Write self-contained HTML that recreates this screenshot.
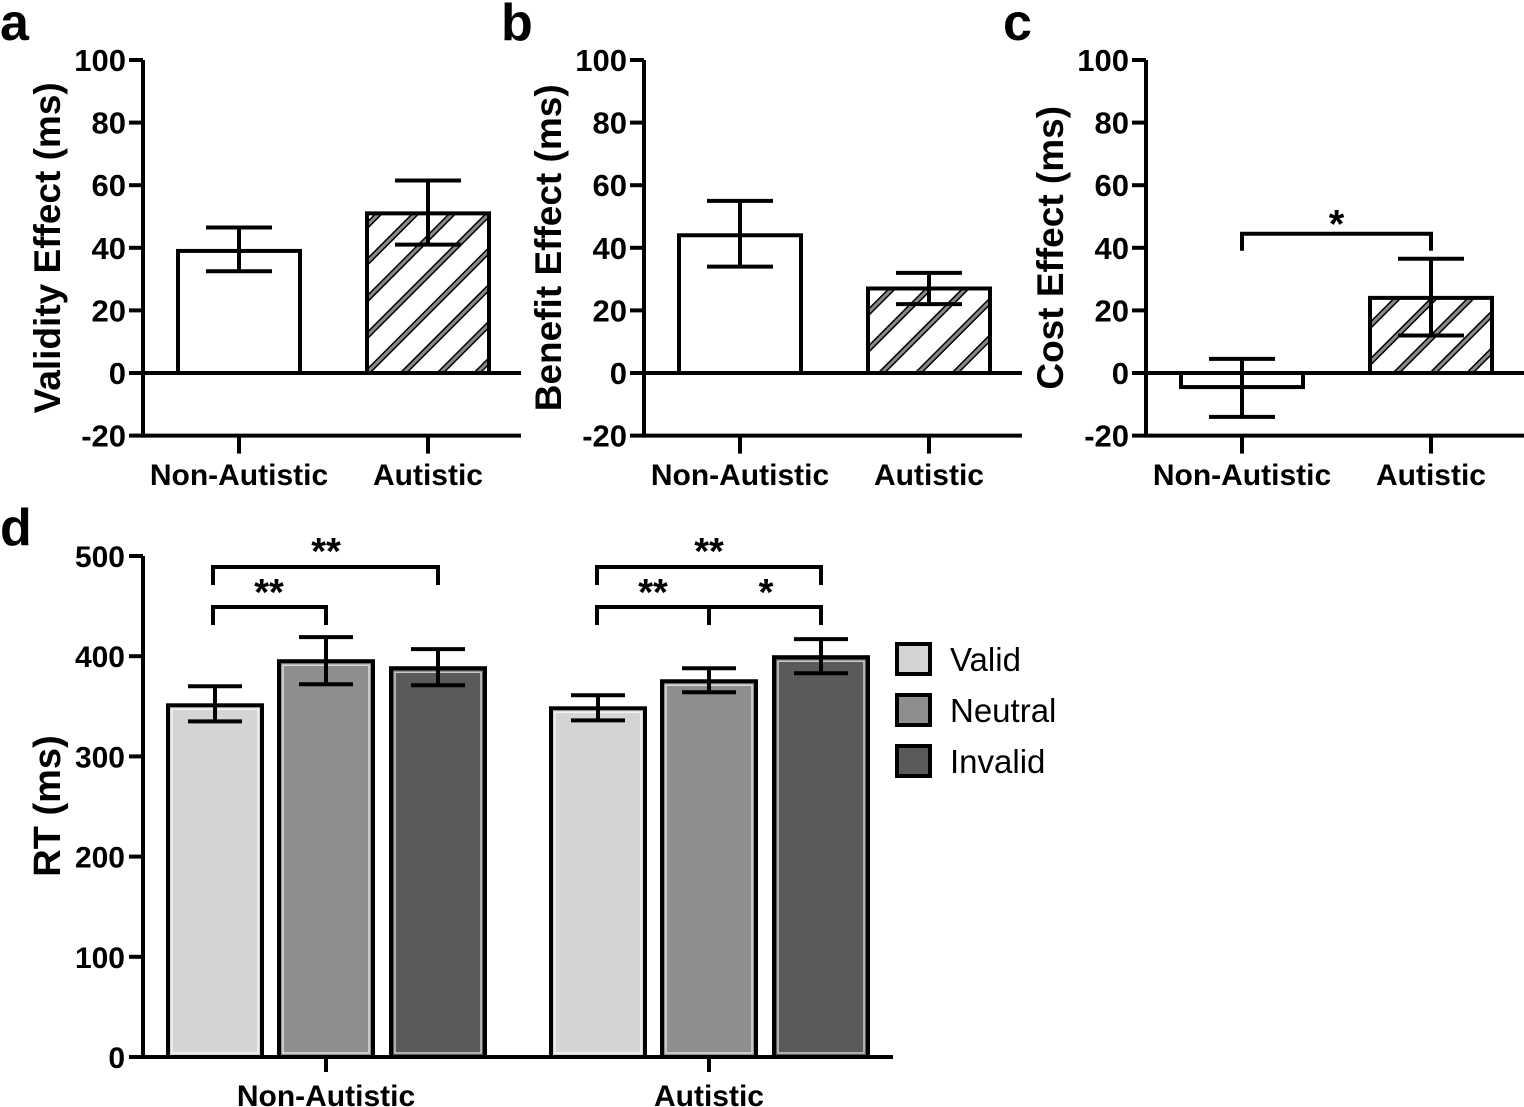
<!DOCTYPE html>
<html><head><meta charset="utf-8"><style>
body{margin:0;background:#fff;}
svg{display:block;font-family:"Liberation Sans",Arial,sans-serif;}
</style></head><body>
<svg id="fig" width="1524" height="1107" viewBox="0 0 1524 1107">
<defs>
<pattern id="hatch" patternUnits="userSpaceOnUse" width="26" height="26" patternTransform="rotate(45)">
<rect width="26" height="26" fill="#fff"/>
<rect x="0" y="0" width="6" height="26" fill="#000"/>
<rect x="1.5" y="0" width="3" height="26" fill="#888"/>
</pattern>
</defs>
</svg>
<script>
const NS='http://www.w3.org/2000/svg';
const svg=document.getElementById('fig');
function mk(tag,attrs,parent,text){const e=document.createElementNS(NS,tag);for(const k in attrs)e.setAttribute(k,attrs[k]);if(text!==undefined)e.textContent=text;(parent||svg).appendChild(e);return e;}

// Panels a-c data
const groupsABC=['Non-Autistic','Autistic'];
const ticksABC=[-20,0,20,40,60,80,100];
const validityMean=[39,51];
const validityLo=[32.5,41];
const validityHi=[46.5,61.5];
const benefitMean=[44,27];
const benefitLo=[34,22];
const benefitHi=[55,32];
const costMean=[-4.5,24];
const costLo=[-14,12];
const costHi=[4.5,36.5];

// Panel d data
const groupsD=['Non-Autistic','Autistic'];
const conditions=['Valid','Neutral','Invalid'];
const ticksD=[0,100,200,300,400,500];
const rtValid=[351,348];
const rtNeutral=[395,375];
const rtInvalid=[388,399];
const rtValidLo=[335,336];
const rtValidHi=[370,361];
const rtNeutralLo=[372,364];
const rtNeutralHi=[419,388];
const rtInvalidLo=[371,383];
const rtInvalidHi=[407,417];

function panel(letter,name,ax,title,means,los,his,sig){
  const g=mk('g',{});
  
  
  const y=v=>373-(v*313/100);
  const centers=[ax+96,ax+285];
  const bw=122;
  const L=mk('text',{x:ax-143,y:40,'font-size':52,'font-weight':'bold'},g,letter);
  
  
  means.forEach((m,i)=>{
    const top=Math.min(y(m),y(0)),h=Math.abs(y(m)-y(0));
    const r=mk('rect',{x:centers[i]-bw/2,y:top,width:bw,height:h,fill:i===1?'url(#hatch)':'#fff',stroke:'#000','stroke-width':4},g);
    
    
    const e=mk('path',{d:`M${centers[i]},${y(his[i])}V${y(los[i])}M${centers[i]-33},${y(his[i])}H${centers[i]+33}M${centers[i]-33},${y(los[i])}H${centers[i]+33}`,stroke:'#000','stroke-width':4,fill:'none'},g);
    
    
  });
  const a=mk('path',{d:`M${ax},${y(100)}V${y(-20)}H${ax+378}M${ax},${y(0)}H${ax+378}`,stroke:'#000','stroke-width':4,fill:'none'},g);
  
  
  ticksABC.forEach(t=>{
    mk('line',{x1:ax-14,x2:ax,y1:y(t),y2:y(t),stroke:'#000','stroke-width':4},g);
    const tl=mk('text',{x:ax-17,y:y(t)+11,'font-size':31,'font-weight':'bold','text-anchor':'end'},g,String(t));
    
    
  });
  centers.forEach((c,i)=>{
    mk('line',{x1:c,x2:c,y1:y(-20),y2:y(-20)+18,stroke:'#000','stroke-width':4},g);
    const xl=mk('text',{x:c,y:485,'font-size':30,'font-weight':'bold','text-anchor':'middle'},g,groupsABC[i]);
    
    
  });
  const yt=mk('text',{x:0,y:0,'font-size':37,'font-weight':'bold','text-anchor':'middle',transform:`translate(${ax-83},${y(40)}) rotate(-90)`},g,title);
  
  
  if(sig){
    const by=y(44.5);
    const s=mk('path',{d:`M${centers[0]},${by+17}V${by}H${centers[1]}V${by+17}`,stroke:'#000','stroke-width':4,fill:'none'},g);
    
    
    const st=mk('text',{x:(centers[0]+centers[1])/2,y:by+4,'font-size':40,'font-weight':'bold','text-anchor':'middle'},g,'*');
    
    
  }
}
panel('a','panel-a-validity',143,'Validity Effect (ms)',validityMean,validityLo,validityHi,false);
panel('b','panel-b-benefit',644,'Benefit Effect (ms)',benefitMean,benefitLo,benefitHi,false);
panel('c','panel-c-cost',1146,'Cost Effect (ms)',costMean,costLo,costHi,true);

(function(){
  const g=mk('g',{});
  
  
  const ax=143;
  const y=v=>1057-v*501/500;
  const groupCenters=[326,709];
  const offs=[-111,0,112];
  const bw=94;
  const fills=['#d4d4d4','#8e8e8e','#5a5a5a'];
  const means=[rtValid,rtNeutral,rtInvalid];
  const los=[rtValidLo,rtNeutralLo,rtInvalidLo];
  const his=[rtValidHi,rtNeutralHi,rtInvalidHi];
  const L=mk('text',{x:0,y:545,'font-size':52,'font-weight':'bold'},g,'d');
  
  
  groupCenters.forEach((gc,gi)=>{
    conditions.forEach((c,ci)=>{
      const cx=gc+offs[ci];const m=means[ci][gi];
      const r=mk('rect',{x:cx-bw/2,y:y(m),width:bw,height:y(0)-y(m),fill:fills[ci],stroke:'#000','stroke-width':4},g);
      
      
      mk('rect',{x:cx-bw/2+4,y:y(m)+4,width:bw-8,height:y(0)-y(m)-8,fill:'none',stroke:'#fff','stroke-width':1.5,opacity:0.7},g);
      const e=mk('path',{d:`M${cx},${y(his[ci][gi])}V${y(los[ci][gi])}M${cx-27},${y(his[ci][gi])}H${cx+27}M${cx-27},${y(los[ci][gi])}H${cx+27}`,stroke:'#000','stroke-width':4,fill:'none'},g);
      
      
    });
  });
  const a=mk('path',{d:`M${ax},${y(500)}V${y(0)}H893`,stroke:'#000','stroke-width':4,fill:'none'},g);
  
  
  ticksD.forEach(t=>{
    mk('line',{x1:ax-14,x2:ax,y1:y(t),y2:y(t),stroke:'#000','stroke-width':4},g);
    const tl=mk('text',{x:ax-18,y:y(t)+11,'font-size':30,'font-weight':'bold','text-anchor':'end'},g,String(t));
    
    
  });
  groupCenters.forEach((c,i)=>{
    mk('line',{x1:c,x2:c,y1:y(0),y2:y(0)+15,stroke:'#000','stroke-width':4},g);
    const xl=mk('text',{x:c,y:1106,'font-size':30,'font-weight':'bold','text-anchor':'middle'},g,groupsD[i]);
    
    
  });
  const yt=mk('text',{x:0,y:0,'font-size':38,'font-weight':'bold','text-anchor':'middle',transform:`translate(60,806) rotate(-90)`},g,'RT (ms)');
  
  
  function bracket(x1,x2,by,mid){
    let d=`M${x1},${by+18}V${by}H${x2}V${by+18}`;
    if(mid!==undefined)d+=`M${mid},${by}V${by+18}`;
    const b=mk('path',{d:d,stroke:'#000','stroke-width':4,fill:'none'},g);
    
    
  }
  function star(x,yy,s){
    const t=mk('text',{x:x,y:yy,'font-size':38,'font-weight':'bold','text-anchor':'middle'},g,s);
    
    
  }
  bracket(213,326,607);bracket(213,438,567);
  bracket(597,821,607,709);bracket(597,821,567);
  star(269,605,'**');star(326,564,'**');star(653,605,'**');star(709,564,'**');star(766,605,'*');
  conditions.forEach((c,i)=>{
    const ly=644+i*51;
    const r=mk('rect',{x:897,y:ly,width:33,height:30,fill:fills[i],stroke:'#000','stroke-width':4},g);
    
    
    const t=mk('text',{x:950,y:ly+27,'font-size':33},g,c);
    
    
  });
})();
</script>
</body></html>
